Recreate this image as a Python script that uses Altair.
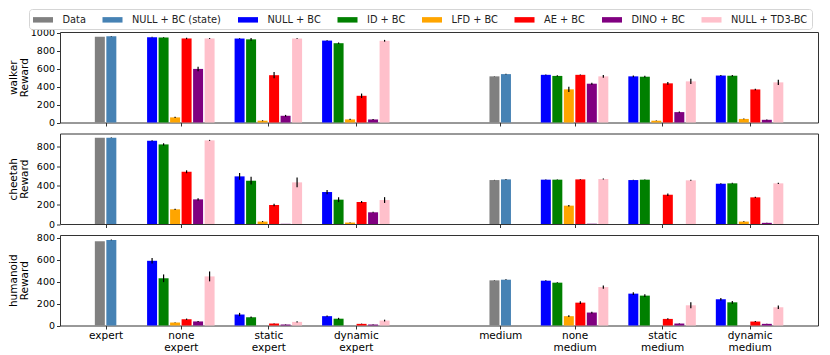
import json
import altair as alt
import pandas as pd

series = ["Data", "NULL + BC (state)", "NULL + BC", "ID + BC", "LFD + BC",
          "AE + BC", "DINO + BC", "NULL + TD3-BC"]
colors = ["#808080", "#4682b4", "#0000ff", "#008000", "#ffa500",
          "#ff0000", "#800080", "#ffc0cb"]
ref_series = series[:2]
method_series = series[2:]

groups = ["expert", "none expert", "static expert", "dynamic expert",
          "medium", "none medium", "static medium", "dynamic medium"]
group_pos = [0.14, 1.0, 2.0, 3.0, 4.65, 5.5, 6.5, 7.5]
ref_groups = ["expert", "medium"]
method_groups = [g for g in groups if g not in ref_groups]

envs = ["walker", "cheetah", "humanoid"]
y_max = [1010, 937, 824]
y_ticks = [[0, 200, 400, 600, 800, 1000], [0, 200, 400, 600, 800], [0, 200, 400, 600, 800]]

# reference bars: rows = ref_groups, cols = ref_series
walker_ref = [[958, 962], [515, 540]]
walker_ref_err = [[0, 3], [2, 3]]
cheetah_ref = [[893, 893], [455, 462]]
cheetah_ref_err = [[0, 3], [2, 3]]
humanoid_ref = [[767, 779], [411, 417]]
humanoid_ref_err = [[0, 3], [2, 3]]

# method bars: rows = method_groups, cols = method_series
walker_mean = [
    [952, 950, 57, 938, 598, 938],
    [937, 928, 20, 528, 75, 937],
    [914, 885, 35, 298, 34, 912],
    [532, 520, 370, 532, 433, 515],
    [515, 511, 20, 437, 116, 459],
    [524, 522, 40, 369, 30, 448],
]
walker_err = [
    [4, 4, 8, 8, 25, 5],
    [4, 15, 5, 35, 10, 4],
    [5, 8, 6, 25, 5, 10],
    [5, 8, 30, 5, 12, 15],
    [10, 10, 3, 15, 6, 28],
    [5, 8, 5, 8, 4, 30],
]
cheetah_mean = [
    [862, 824, 152, 541, 255, 866],
    [493, 448, 25, 197, 2, 431],
    [331, 252, 15, 228, 121, 248],
    [459, 459, 190, 462, 3, 466],
    [455, 459, 0, 303, 0, 452],
    [417, 421, 25, 276, 12, 421],
]
cheetah_err = [
    [4, 12, 6, 15, 12, 5],
    [35, 40, 5, 12, 0, 50],
    [22, 25, 3, 10, 5, 30],
    [3, 3, 8, 3, 0, 4],
    [3, 3, 0, 12, 0, 5],
    [5, 5, 3, 6, 2, 6],
]
humanoid_mean = [
    [589, 430, 27, 57, 37, 447],
    [100, 75, 0, 18, 9, 33],
    [85, 62, 0, 15, 9, 45],
    [408, 390, 85, 208, 118, 350],
    [290, 272, 0, 60, 18, 184],
    [239, 211, 0, 36, 15, 166],
]
humanoid_err = [
    [25, 35, 3, 6, 4, 45],
    [15, 6, 0, 3, 2, 6],
    [6, 8, 0, 2, 2, 8],
    [3, 4, 8, 12, 8, 15],
    [12, 12, 0, 6, 2, 28],
    [12, 12, 0, 4, 2, 15],
]

env_data = {
    "walker": (walker_ref, walker_ref_err, walker_mean, walker_err),
    "cheetah": (cheetah_ref, cheetah_ref_err, cheetah_mean, cheetah_err),
    "humanoid": (humanoid_ref, humanoid_ref_err, humanoid_mean, humanoid_err),
}

PITCH = 11.5 / 87.5  # bar pitch in group units


def build_rows(env):
    ref, ref_err, mean, err = env_data[env]
    out = []
    for blocks, ser, vals, errs in ((ref_groups, ref_series, ref, ref_err),
                                   (method_groups, method_series, mean, err)):
        n = len(ser)
        for gi, g in enumerate(blocks):
            p = group_pos[groups.index(g)]
            for si, s in enumerate(ser):
                v = vals[gi][si]
                e = errs[gi][si]
                out.append(dict(env=env, group=g, series=s,
                                pos=p + (si - (n - 1) / 2) * PITCH,
                                value=v, err=e, lo=max(v - e, 0), hi=v + e))
    return pd.DataFrame(out)


label_expr = "".join(
    f"datum.value == {p} ? {json.dumps(g.split(' '))} : " for p, g in zip(group_pos, groups)
) + "''"

x_scale = alt.Scale(domain=[-0.381, 8.282], nice=False, zero=False, padding=0)
sym_path = "M-1.54,-0.42L1.54,-0.42L1.54,0.42L-1.54,0.42Z"

panels = []
for i, env in enumerate(envs):
    df = build_rows(env)
    last = i == len(envs) - 1
    xa = dict(values=group_pos, ticks=True, tickSize=3.5, grid=False, domain=False,
              title=None, labels=last)
    if last:
        xa.update(labelExpr=label_expr, labelFlush=False, labelOverlap=False,
                  labelPadding=1.5, labelFontSize=10.5, labelLineHeight=12)
    x_axis = alt.Axis(**xa)
    y_axis = alt.Axis(values=y_ticks[i], format="d", title=[env, "Reward"],
                      titleFontWeight="normal", titleFontSize=10.5,
                      titleLineHeight=10.5, titlePadding=3, labelFontSize=9.5,
                      labelPadding=2, tickSize=3.5, minExtent=28, maxExtent=28,
                      grid=False, domain=False, labelFlush=False,
                      labelOverlap=False)
    y_scale = alt.Scale(domain=[0, y_max[i]], nice=False, zero=True)
    if i == 0:
        legend = alt.Legend(title=None, orient="none", legendX=-31, legendY=-23,
                            direction="horizontal", columns=8, symbolType=sym_path,
                            symbolSize=169, symbolStrokeWidth=0, symbolOffset=3.5,
                            labelOffset=13, columnPadding=15.5, padding=4,
                            strokeColor="#d5d5d5", fillColor="white", cornerRadius=3,
                            labelFontSize=9.8, labelFont="DejaVu Sans", labelColor="#222",
                            symbolOpacity=1)
    else:
        legend = None
    bars = alt.Chart(df).mark_bar(orient="vertical", size=10).encode(
        x=alt.X("pos:Q", scale=x_scale, axis=x_axis),
        y=alt.Y("value:Q", scale=y_scale, stack=None, axis=y_axis),
        color=alt.Color("series:N", scale=alt.Scale(domain=series, range=colors),
                        legend=legend),
    )
    errs = alt.Chart(df[df["err"] > 0]).mark_rule(color="black", strokeWidth=1.2).encode(
        x=alt.X("pos:Q", scale=x_scale, axis=x_axis),
        y=alt.Y("lo:Q", scale=y_scale, axis=y_axis),
        y2="hi:Q",
    )
    panels.append(alt.layer(bars, errs).properties(width=758, height=90.5))

chart = alt.vconcat(*panels, spacing=10.5, bounds="flush").resolve_scale(
    y="independent", color="shared"
).properties(
    padding={"left": 0, "top": 0, "right": 2, "bottom": 0}
).configure_view(
    stroke="#333", strokeWidth=1
).configure_axis(
    labelFont="DejaVu Sans", titleFont="DejaVu Sans", labelColor="black",
    titleColor="black", tickColor="#333", domainColor="#333", labelOverlap=False
)

chart.save("out.html", embed_options={"renderer": "svg", "actions": False})
